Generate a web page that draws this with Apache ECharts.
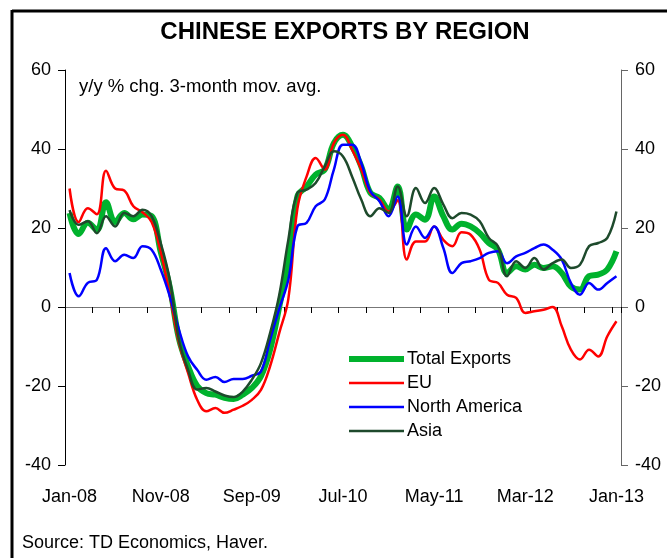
<!DOCTYPE html>
<html>
<head>
<meta charset="utf-8">
<script src="https://cdn.jsdelivr.net/npm/echarts@6/dist/echarts.min.js"></script>
<style>
  html, body { margin: 0; padding: 0; background: #fff; }
  #chart { width: 667px; height: 558px; }
</style>
</head>
<body>
<div id="chart"></div>
<script>
// Chinese exports by region, y/y % chg, 3-month moving average, Jan-08 .. Jan-13
const MONTHS = ['Jan','Feb','Mar','Apr','May','Jun','Jul','Aug','Sep','Oct','Nov','Dec'];
const categories = [];
for (let y = 8; y <= 13; y++) {
  for (let m = 0; m < 12; m++) {
    if (y === 13 && m > 0) break;
    categories.push(MONTHS[m] + '-' + String(y).padStart(2, '0'));
  }
}

const totalExports = [
  23.8, 18.5, 21.3, 19.5, 26.5, 21.5, 23.8, 22.2, 23.4, 23.0,
  14.0, 5.0, -8.0, -15.0, -20.0, -21.8, -22.2, -23.0, -23.3, -22.2,
  -20.5, -17.5, -10.8, 0.0, 12.0, 28.0, 30.5, 33.5, 34.8, 41.5,
  43.6, 40.7, 35.6, 28.9, 27.6, 24.6, 30.5, 19.6, 23.4, 22.1,
  28.0, 23.0, 19.6, 21.1, 20.4, 18.7, 16.2, 14.5, 8.6, 10.3,
  9.5, 10.7, 9.9, 10.3, 8.6, 5.2, 4.4, 7.8, 8.2, 9.5,
  14.1
];
const eu = [
  30.0, 21.5, 25.0, 23.5, 34.5, 30.0, 29.5, 25.5, 24.0, 21.5,
  14.0, 3.0, -9.0, -16.7, -23.5, -26.4, -25.6, -26.8, -26.0, -25.0,
  -23.5, -21.0, -15.0, -6.6, 2.0, 25.0, 33.0, 37.7, 34.8, 41.5,
  43.6, 39.8, 34.8, 28.9, 27.2, 24.2, 27.0, 12.0, 16.6, 16.6,
  20.4, 17.0, 15.4, 18.9, 18.3, 14.5, 6.9, 6.1, 3.1, 2.3,
  -1.5, -1.1, -0.7, 0.0, -4.9, -10.8, -13.3, -10.8, -12.5, -7.4,
  -3.6
];
const northAmerica = [
  8.6, 2.7, 6.1, 6.9, 14.9, 11.6, 13.2, 12.4, 15.4, 14.5,
  9.5, 2.7, -5.7, -12.5, -15.9, -18.4, -17.7, -19.0, -18.2, -18.2,
  -17.4, -16.3, -8.3, -0.5, 6.9, 20.4, 21.3, 25.5, 27.2, 34.8,
  41.1, 41.1, 36.5, 29.3, 26.8, 23.0, 28.0, 15.8, 20.4, 17.5,
  20.4, 15.0, 8.6, 11.1, 11.6, 12.4, 13.7, 14.1, 11.1, 12.8,
  13.7, 14.9, 15.8, 14.5, 12.0, 6.1, 3.1, 6.1, 4.4, 6.1,
  7.8
];
const asia = [
  24.5, 20.8, 21.7, 18.7, 23.0, 20.4, 23.8, 23.0, 24.6, 23.0,
  16.2, 6.9, -8.3, -15.9, -20.9, -20.5, -21.4, -22.4, -22.8, -21.4,
  -18.4, -14.2, -6.6, 3.0, 17.0, 28.9, 29.7, 31.4, 35.6, 39.4,
  38.1, 33.0, 27.2, 23.0, 25.0, 23.8, 30.5, 23.0, 30.1, 26.3,
  30.1, 26.0, 22.5, 23.8, 23.4, 21.7, 17.5, 15.4, 7.8, 11.6,
  9.9, 12.4, 9.5, 11.1, 12.0, 9.9, 10.7, 15.4, 16.2, 17.5,
  24.2
];

const yTicks = { min: -40, max: 60, interval: 20 };
const FONT = '"Liberation Sans", Arial, sans-serif';

const chart = echarts.init(document.getElementById('chart'), null, { renderer: 'canvas' });

function lineSeries(name, data, color, width) {
  return {
    name, type: 'line', data,
    xAxisIndex: 0, yAxisIndex: 0,
    smooth: 0.4, symbol: 'none', showSymbol: false,
    lineStyle: { color, width },
    itemStyle: { color },
    emphasis: { disabled: true },
    animation: false
  };
}

function yAxis(position, lineColor) {
  return {
    type: 'value', position,
    min: yTicks.min, max: yTicks.max, interval: yTicks.interval,
    axisLine: { show: true, lineStyle: { color: lineColor, width: 1 } },
    axisTick: { show: true, length: 7, lineStyle: { color: lineColor } },
    axisLabel: { margin: 14, color: '#000', fontSize: 18, fontFamily: FONT },
    splitLine: { show: false }
  };
}

chart.setOption({
  animation: false,
  textStyle: { fontFamily: FONT },
  grid: { left: 65, right: 46, top: 70, bottom: 93 },
  xAxis: [
    {
      type: 'category', data: categories, boundaryGap: true,
      axisLine: { onZero: true, lineStyle: { color: '#777', width: 1 } },
      axisTick: { show: true, interval: 2, length: 6, lineStyle: { color: '#000' } },
      axisLabel: { show: false }
    },
    {
      type: 'category', data: categories, boundaryGap: true, position: 'bottom',
      axisLine: { show: false, onZero: false },
      axisTick: { show: false },
      axisLabel: { interval: 9, margin: 23, color: '#000', fontSize: 18, fontFamily: FONT }
    }
  ],
  yAxis: [yAxis('left', '#000'), yAxis('right', '#666')],
  legend: {
    orient: 'vertical', left: 346, top: 350, padding: 0,
    itemWidth: 55, itemHeight: 14, itemGap: 6,
    itemStyle: { opacity: 0 },
    textStyle: { fontSize: 18, color: '#000', fontFamily: FONT, padding: [0, 0, 0, -2] },
    data: [
      { name: 'Total Exports', lineStyle: { width: 6 } },
      { name: 'EU', lineStyle: { width: 2.5 } },
      { name: 'North America', lineStyle: { width: 2.5 } },
      { name: 'Asia', lineStyle: { width: 2.5 } }
    ]
  },
  series: [
    lineSeries('Total Exports', totalExports, '#00b22d', 6),
    lineSeries('EU', eu, '#ff0000', 2.5),
    lineSeries('North America', northAmerica, '#0000ff', 2.5),
    lineSeries('Asia', asia, '#1e4a2c', 2.5)
  ],
  graphic: [
    { type: 'line', shape: { x1: 12, y1: 11, x2: 667, y2: 11 }, style: { stroke: '#000', lineWidth: 3 } },
    { type: 'line', shape: { x1: 12, y1: 10, x2: 12, y2: 558 }, style: { stroke: '#000', lineWidth: 3 } },
    { type: 'text', x: 345, y: 32, style: { text: 'CHINESE EXPORTS BY REGION', font: 'bold 24px ' + FONT, fill: '#000', textAlign: 'center', textVerticalAlign: 'middle' } },
    { type: 'text', x: 79, y: 87, style: { text: 'y/y % chg. 3-month mov. avg.', font: '18.5px ' + FONT, fill: '#000', textAlign: 'left', textVerticalAlign: 'middle' } },
    { type: 'text', x: 22, y: 543, style: { text: 'Source: TD Economics, Haver.', font: '18px ' + FONT, fill: '#000', textAlign: 'left', textVerticalAlign: 'middle' } }
  ]
});
</script>
</body>
</html>
